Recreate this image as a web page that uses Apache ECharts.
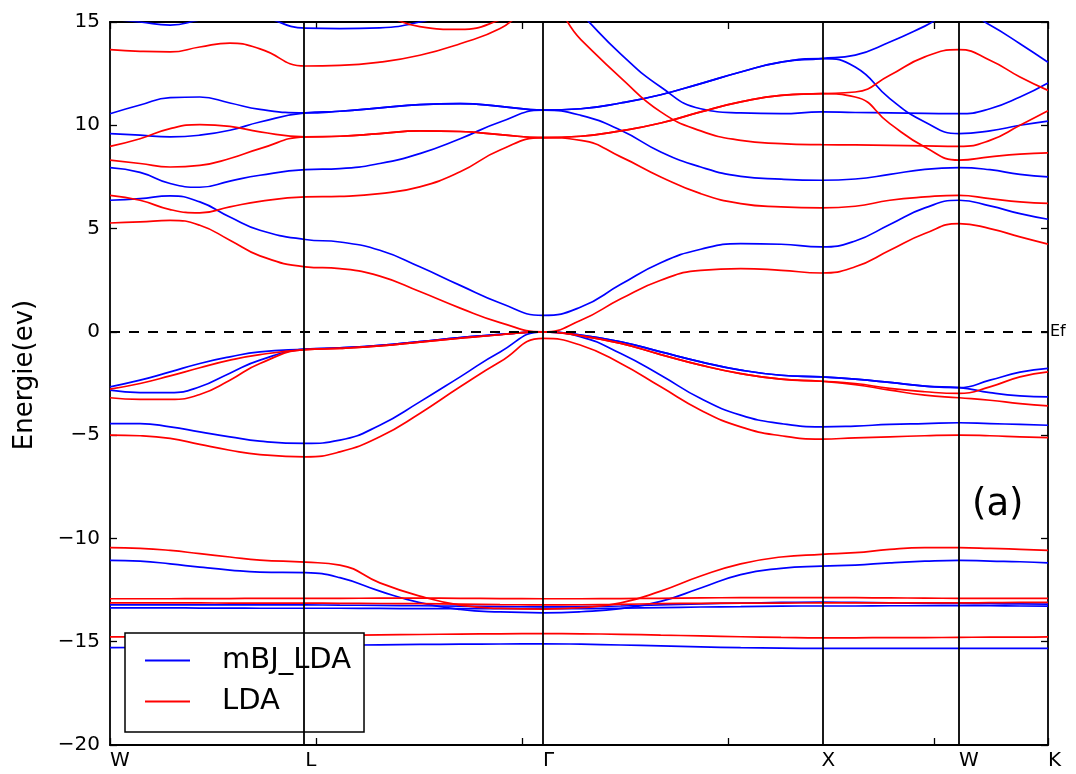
<!DOCTYPE html>
<html>
<head>
<meta charset="utf-8">
<script src="https://cdn.jsdelivr.net/npm/echarts@6/dist/echarts.min.js"></script>
<style>
html,body{margin:0;padding:0;background:#fff;}
#chart{width:1076px;height:774px;}
</style>
</head>
<body>
<div id="chart"></div>
<script>
// High-symmetry points along the k-path
const kPos = [0, 0.474, 1.051, 1.727, 2.061, 2.277];
const kLabels = ['W', 'L', 'Γ', 'X', 'W', 'K'];
// k sample points of every band
const kGrid = [0, 0.073, 0.146, 0.218, 0.291, 0.364, 0.474, 0.558, 0.655, 0.752, 0.850, 0.947, 1.051,
  1.143, 1.240, 1.337, 1.434, 1.531, 1.629, 1.727, 1.809, 1.893, 1.978, 2.061, 2.136, 2.209, 2.277];
const yTicks = [-20, -15, -10, -5, 0, 5, 10, 15];

// mBJ_LDA bands (eV)
const mbj1 = [15.15, 15.0, 14.85, 15.1, 15.35, 15.25, 14.7, 14.68, 14.72, 15.0, 15.6, 16.5, 17.2, 15.4, 13.45, 11.85, 10.8, 10.6, 10.56, 10.65, 10.62, 10.6, 10.58, 10.56, 10.8, 11.37, 12.05];
const mbj2 = [10.56, 10.98, 11.34, 11.37, 11.08, 10.77, 10.6, 10.68, 10.84, 11.0, 11.05, 10.92, 10.73, 10.8, 11.08, 11.48, 12.02, 12.58, 13.06, 13.23, 13.4, 14.03, 14.8, 15.6, 14.85, 13.95, 13.05];
const mbj3 = [9.6, 9.52, 9.44, 9.52, 9.76, 10.16, 10.6, 10.68, 10.84, 11.0, 11.05, 10.92, 10.73, 10.8, 11.08, 11.48, 12.02, 12.58, 13.06, 13.23, 12.82, 11.29, 10.16, 9.6, 9.73, 10.0, 10.2];
const mbj4 = [7.95, 7.72, 7.18, 7.0, 7.3, 7.58, 7.85, 7.9, 8.15, 8.63, 9.35, 10.16, 10.73, 10.48, 9.76, 8.71, 7.98, 7.53, 7.39, 7.34, 7.4, 7.62, 7.87, 7.95, 7.85, 7.62, 7.5];
const mbj5 = [6.37, 6.45, 6.58, 6.29, 5.56, 4.92, 4.47, 4.35, 3.95, 3.15, 2.25, 1.4, 0.8, 1.2, 2.3, 3.35, 4.0, 4.27, 4.24, 4.11, 4.4, 5.2, 6.0, 6.37, 6.1, 5.72, 5.45];
const mbj6 = [-2.66, -2.34, -1.94, -1.53, -1.21, -0.97, -0.84, -0.77, -0.65, -0.47, -0.28, -0.12, 0, -0.16, -0.48, -0.97, -1.45, -1.85, -2.1, -2.18, -2.29, -2.45, -2.63, -2.7, -2.34, -1.95, -1.77];
const mbj7 = [-2.82, -2.94, -2.94, -2.66, -2.0, -1.37, -0.84, -0.77, -0.65, -0.47, -0.28, -0.12, 0, -0.16, -0.48, -0.97, -1.45, -1.85, -2.1, -2.18, -2.29, -2.45, -2.63, -2.7, -2.94, -3.1, -3.15];
const mbj8 = [-4.44, -4.44, -4.6, -4.84, -5.08, -5.29, -5.4, -5.24, -4.52, -3.39, -2.18, -0.97, 0, -0.24, -1.05, -2.1, -3.23, -4.03, -4.44, -4.6, -4.56, -4.48, -4.44, -4.4, -4.44, -4.48, -4.52];
const mbj9 = [-11.06, -11.1, -11.23, -11.39, -11.53, -11.63, -11.66, -11.9, -12.55, -13.11, -13.44, -13.56, -13.6, -13.55, -13.4, -13.05, -12.4, -11.75, -11.45, -11.34, -11.29, -11.18, -11.1, -11.06, -11.1, -11.13, -11.18];
const mbj10 = [-13.22, -13.22, -13.22, -13.22, -13.22, -13.22, -13.22, -13.23, -13.24, -13.26, -13.28, -13.3, -13.31, -13.3, -13.27, -13.22, -13.17, -13.13, -13.1, -13.08, -13.1, -13.12, -13.14, -13.15, -13.16, -13.17, -13.18];
const mbj11 = [-13.36, -13.36, -13.36, -13.37, -13.37, -13.38, -13.38, -13.38, -13.39, -13.4, -13.4, -13.4, -13.4, -13.4, -13.38, -13.35, -13.32, -13.3, -13.28, -13.27, -13.27, -13.26, -13.26, -13.25, -13.26, -13.27, -13.28];
const mbj12 = [-15.29, -15.28, -15.27, -15.25, -15.23, -15.21, -15.19, -15.17, -15.15, -15.13, -15.12, -15.11, -15.1, -15.12, -15.16, -15.2, -15.25, -15.29, -15.31, -15.32, -15.32, -15.32, -15.32, -15.32, -15.32, -15.32, -15.32];

// LDA bands (eV)
const lda1 = [16.5, 16.5, 16.5, 16.5, 16.5, 16.4, 16.2, 15.9, 15.4, 14.78, 14.64, 15.1, 16.0, 17, 17, 17, 17, 17, 17, 17, 17, 17, 17, 17, 17, 17, 17];
const lda2 = [13.66, 13.58, 13.55, 13.79, 13.98, 13.7, 12.87, 12.9, 13.06, 13.39, 13.95, 14.68, 16.0, 14.15, 12.3, 10.65, 9.73, 9.27, 9.11, 9.06, 9.05, 9.03, 9.0, 8.98, 9.27, 10.0, 10.7];
const lda3 = [8.98, 9.35, 9.84, 10.03, 9.95, 9.68, 9.44, 9.47, 9.6, 9.73, 9.7, 9.55, 9.4, 9.47, 9.73, 10.11, 10.65, 11.13, 11.45, 11.53, 11.61, 12.42, 13.31, 13.66, 13.15, 12.34, 11.69];
const lda4 = [8.31, 8.15, 7.98, 8.06, 8.39, 8.87, 9.44, 9.47, 9.6, 9.73, 9.7, 9.55, 9.4, 9.47, 9.73, 10.11, 10.65, 11.13, 11.45, 11.53, 11.37, 10.08, 8.95, 8.31, 8.47, 8.6, 8.66];
const lda5 = [6.61, 6.37, 5.92, 5.76, 6.05, 6.32, 6.53, 6.56, 6.69, 7.02, 7.75, 8.8, 9.4, 9.27, 8.47, 7.5, 6.69, 6.21, 6.05, 6.0, 6.08, 6.37, 6.53, 6.61, 6.45, 6.29, 6.22];
const lda6 = [5.27, 5.32, 5.4, 5.16, 4.44, 3.68, 3.15, 3.06, 2.7, 1.95, 1.15, 0.45, 0.0, 0.56, 1.6, 2.5, 2.98, 3.06, 2.98, 2.85, 3.15, 3.95, 4.76, 5.24, 5.0, 4.6, 4.25];
const lda7 = [-2.77, -2.5, -2.13, -1.74, -1.37, -1.1, -0.86, -0.8, -0.68, -0.5, -0.31, -0.14, 0, -0.19, -0.56, -1.1, -1.61, -2.02, -2.29, -2.39, -2.5, -2.74, -2.9, -2.98, -2.66, -2.18, -1.94];
const lda8 = [-3.19, -3.27, -3.27, -3.03, -2.34, -1.53, -0.86, -0.8, -0.68, -0.5, -0.31, -0.14, 0, -0.19, -0.56, -1.1, -1.61, -2.02, -2.29, -2.39, -2.55, -2.82, -3.06, -3.19, -3.31, -3.47, -3.58];
const lda9 = [-5.0, -5.03, -5.16, -5.45, -5.73, -5.94, -6.05, -5.81, -5.08, -3.95, -2.66, -1.45, -0.32, -0.65, -1.53, -2.66, -3.79, -4.6, -5.03, -5.19, -5.13, -5.08, -5.03, -5.0, -5.03, -5.08, -5.12];
const lda10 = [-10.45, -10.48, -10.58, -10.74, -10.9, -11.05, -11.15, -11.29, -12.15, -12.79, -13.23, -13.39, -13.42, -13.35, -13.12, -12.55, -11.82, -11.23, -10.9, -10.77, -10.69, -10.53, -10.45, -10.45, -10.48, -10.53, -10.58];
const lda11 = [-12.92, -12.92, -12.92, -12.91, -12.91, -12.9, -12.9, -12.9, -12.89, -12.89, -12.9, -12.91, -12.92, -12.92, -12.91, -12.9, -12.88, -12.87, -12.87, -12.87, -12.87, -12.88, -12.89, -12.9, -12.9, -12.9, -12.9];
const lda12 = [-13.12, -13.12, -13.12, -13.12, -13.13, -13.13, -13.13, -13.14, -13.15, -13.16, -13.18, -13.2, -13.22, -13.21, -13.19, -13.16, -13.14, -13.13, -13.13, -13.12, -13.12, -13.12, -13.12, -13.12, -13.11, -13.1, -13.1];
const lda13 = [-14.77, -14.77, -14.76, -14.75, -14.74, -14.73, -14.71, -14.69, -14.67, -14.65, -14.63, -14.62, -14.61, -14.62, -14.64, -14.68, -14.72, -14.76, -14.79, -14.81, -14.81, -14.8, -14.8, -14.79, -14.78, -14.78, -14.77];

const mbjBands = [mbj1, mbj2, mbj3, mbj4, mbj5, mbj6, mbj7, mbj8, mbj9, mbj10, mbj11, mbj12];
const ldaBands = [lda1, lda2, lda3, lda4, lda5, lda6, lda7, lda8, lda9, lda10, lda11, lda12, lda13];

const FONT = 'DejaVu Sans';
const BLUE = '#0000ff', RED = '#ff0000';

function bandSeries(band, name, color) {
  return {
    type: 'line', name: name, xAxisIndex: 0, yAxisIndex: 0,
    data: kGrid.map((k, i) => [k, band[i]]),
    showSymbol: false, symbol: 'none', smooth: 0.5,
    clip: true, silent: true, z: 2,
    lineStyle: { color: color, width: 1.7 },
    itemStyle: { color: color },
    emphasis: { disabled: true }
  };
}

const series = [];
mbjBands.forEach(b => series.push(bandSeries(b, 'mBJ_LDA', BLUE)));
ldaBands.forEach(b => series.push(bandSeries(b, 'LDA', RED)));
series.push({
  type: 'line', name: 'guides', data: [], silent: true, z: 3,
  markLine: {
    silent: true, symbol: 'none', animation: false,
    label: { show: false },
    lineStyle: { color: '#000', width: 1.8, type: 'solid' },
    data: kPos.slice(1, -1).map(k => ({ xAxis: k })).concat([{
      yAxis: 0,
      lineStyle: { color: '#000', width: 2, type: [10, 9] },
      label: { show: true, position: 'end', formatter: 'Ef', distance: 2,
               fontFamily: FONT, fontSize: 16, color: '#000', padding: [0, 0, 10, 0] }
    }])
  }
});

const axisLineStyle = { color: '#000', width: 1.8 };
const tickStyle = { color: '#000', width: 1.3 };

const option = {
  animation: false,
  backgroundColor: '#fff',
  grid: { left: 110, right: 28, top: 22, bottom: 29, containLabel: false },
  xAxis: [
    {
      type: 'value', position: 'bottom', min: kPos[0], max: kPos[kPos.length - 1], interval: 0.5,
      axisLine: { show: true, onZero: false, lineStyle: axisLineStyle },
      axisTick: { show: true, inside: true, length: 7, lineStyle: tickStyle },
      axisLabel: {
        show: true, customValues: kPos, align: 'left', margin: 6,
        fontFamily: FONT, fontSize: 20, color: '#000',
        formatter: function (v) {
          let best = 0;
          kPos.forEach((p, i) => { if (Math.abs(p - v) < Math.abs(kPos[best] - v)) best = i; });
          return kLabels[best];
        }
      },
      splitLine: { show: false }
    },
    {
      type: 'value', position: 'top', min: kPos[0], max: kPos[kPos.length - 1], interval: 0.5,
      axisLine: { show: true, onZero: false, lineStyle: axisLineStyle },
      axisTick: { show: true, inside: true, length: 7, lineStyle: tickStyle },
      axisLabel: { show: false }, splitLine: { show: false }
    }
  ],
  yAxis: [
    {
      type: 'value', position: 'left', min: yTicks[0], max: yTicks[yTicks.length - 1], interval: 5,
      axisLine: { show: true, onZero: false, lineStyle: axisLineStyle },
      axisTick: { show: true, inside: true, length: 7, lineStyle: tickStyle },
      axisLabel: {
        margin: 10, fontFamily: FONT, fontSize: 20, color: '#000',
        formatter: v => (v < 0 ? '\u2212' + Math.abs(v) : String(v))
      },
      splitLine: { show: false }
    },
    {
      type: 'value', position: 'right', min: yTicks[0], max: yTicks[yTicks.length - 1], interval: 5,
      axisLine: { show: true, onZero: false, lineStyle: axisLineStyle },
      axisTick: { show: true, inside: true, length: 7, lineStyle: tickStyle },
      axisLabel: { show: false }, splitLine: { show: false }
    }
  ],
  legend: {
    data: [{ name: 'mBJ_LDA', icon: 'rect' }, { name: 'LDA', icon: 'rect' }],
    orient: 'vertical', left: 125, top: 633,
    itemWidth: 45, itemHeight: 2, itemGap: 12,
    padding: [13, 13, 16, 20],
    backgroundColor: '#fff', borderColor: '#000', borderWidth: 1.5, borderRadius: 0,
    textStyle: { fontFamily: FONT, fontSize: 29, color: '#000', padding: [0, 0, 0, 27] },
    selectedMode: false
  },
  graphic: [
    {
      type: 'text', x: 25, y: 375, rotation: Math.PI / 2, z: 10,
      style: { text: 'Energie(ev)', fontFamily: FONT, fontSize: 26, fill: '#000', align: 'center', verticalAlign: 'middle' }
    },
    {
      type: 'text', left: 972, top: 487, z: 10,
      style: { text: '(a)', fontFamily: FONT, fontSize: 37, fill: '#000' }
    }
  ],
  series: series
};

const chart = echarts.init(document.getElementById('chart'), null, { renderer: 'canvas' });
chart.setOption(option);
</script>
</body>
</html>
